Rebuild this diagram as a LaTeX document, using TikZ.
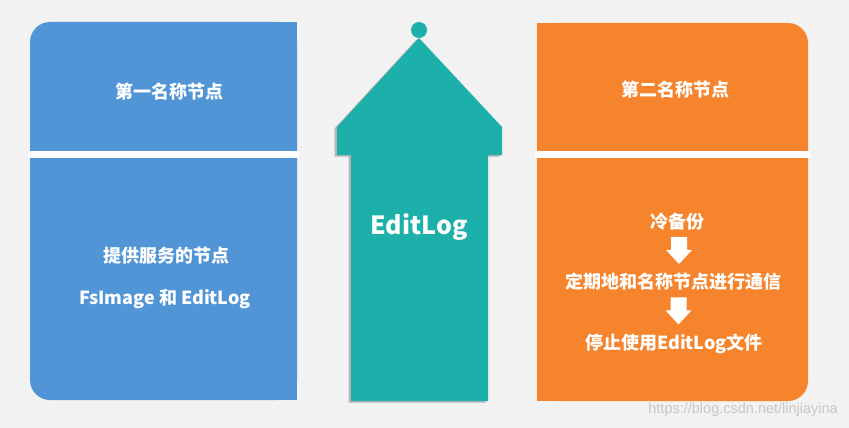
\documentclass[tikz,border=0pt]{standalone}
\usepackage{fontspec}
\usetikzlibrary{calc}
\setmainfont{Noto Sans CJK SC}
\newfontfamily\wmfont{Liberation Sans}
\definecolor{bgc}{HTML}{F2F2F2}
\definecolor{bluec}{HTML}{5295D6}
\definecolor{orangec}{HTML}{F5842D}
\definecolor{tealc}{HTML}{1DB0AA}
\tikzset{
  lbl/.style={text=white, font=\bfseries\fontsize{18}{20}\selectfont, inner sep=0pt, anchor=center},
  big/.style={text=white, font=\bfseries\fontsize{25}{28}\selectfont, inner sep=0pt},
  downarrow/.style={fill=white},
  wm/.style={text=black!22, font=\wmfont\fontsize{14.5}{16}\selectfont, inner sep=0pt}
}
\begin{document}
\begin{tikzpicture}[x=1pt,y=-1pt]
\fill[bgc] (0,0) rectangle (849,428);
\useasboundingbox (0,0) rectangle (849,428);
% blue panel
\fill[bluec, rounded corners=20pt] (30,22) rectangle (297,400);
\fill[bluec] (120,22) rectangle (297,400);
\fill[white] (28,151) rectangle (299,158);
% orange panel
\fill[orangec, rounded corners=20pt] (537,23) rectangle (808,401);
\fill[orangec] (537,23) rectangle (720,401);
\fill[white] (535,151) rectangle (810,158);
% teal house arrow (shadow then body)
\fill[black, opacity=0.25, shift={(-2.5,1.5)}] (419,38) -- (502,127) -- (502,155) -- (488,155) -- (488,401) -- (351,401) -- (351,155) -- (337,155) -- (337,127) -- cycle;
\fill[tealc] (419,38) -- (502,127) -- (502,155) -- (488,155) -- (488,401) -- (351,401) -- (351,155) -- (337,155) -- (337,127) -- cycle;
\fill[tealc] (419,30) circle[radius=8pt];
% texts
\node[lbl] (n1) at (169,92) {第一名称节点};
\node[lbl] (n1a) at (166,256) {提供服务的节点};
\node[lbl] (n1b) at (165,299) {FsImage 和 EditLog};
\node[big] (el) at (419,227) {EditLog};
\node[lbl] (n2) at (675,90) {第二名称节点};
\node[lbl] (s1) at (677,222) {冷备份};
\node[lbl] (s2) at (673,282) {定期地和名称节点进行通信};
\node[lbl] (s3) at (674,344) {停止使用EditLog文件};
% block arrows between steps
\path (s1.south) -- (s2.north) coordinate[midway, xshift=4pt] (m1);
\path (s2.south) -- (s3.north) coordinate[midway, xshift=5pt] (m2);
\foreach \m in {m1,m2}{
  \fill[downarrow] ($(\m)+(-8,-15)$) -- ($(\m)+(8,-15)$) -- ($(\m)+(8,-2)$) -- ($(\m)+(13,-2)$) -- ($(\m)+(0,12)$) -- ($(\m)+(-13,-2)$) -- ($(\m)+(-8,-2)$) -- cycle;
}
\node[wm, anchor=east] (wmk) at (838,410) {https://blog.csdn.net/linjiayina};
\end{tikzpicture}
\end{document}
